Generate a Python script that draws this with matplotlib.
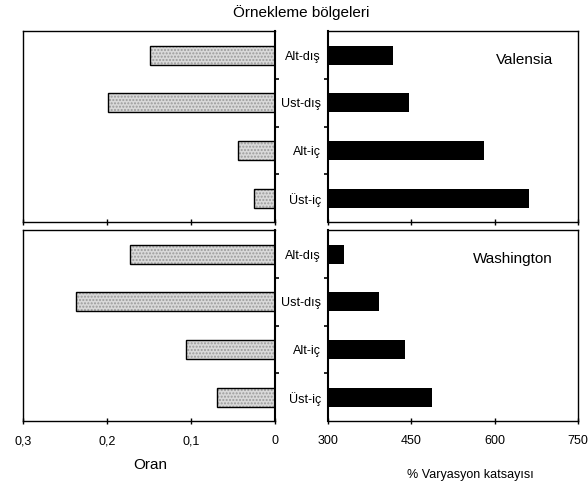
import matplotlib.pyplot as plt
import numpy as np

plt.rcParams['font.family'] = ['Liberation Sans', 'DejaVu Sans']

bolgeler = ['Alt-dış', 'Ust-dış', 'Alt-iç', 'Üst-iç']
yerler = ['Valensia', 'Washington']
oran = [[0.149, 0.199, 0.044, 0.025],
        [0.173, 0.237, 0.106, 0.069]]
varyasyon = [[416, 445, 580, 661],
             [329, 392, 439, 487]]
oran_ticks = [0.3, 0.2, 0.1, 0]
oran_labels = ['0,3', '0,2', '0,1', '0']
var_ticks = [300, 450, 600, 750]

fig = plt.figure(figsize=(5.88, 4.88), dpi=100)

y = np.arange(len(bolgeler))
rows = [(0.545, 0.391), (0.137, 0.391)]

for i, (b, h) in enumerate(rows):
    axl = fig.add_axes([0.039, b, 0.4286, h])
    axr = fig.add_axes([0.558, b, 0.425, h])

    # left: stippled bars, reversed axis
    axl.barh(y, oran[i], height=0.4, color='#d9d9d9', hatch='.....',
             edgecolor='#9a9a9a', linewidth=0)
    axl.barh(y, oran[i], height=0.4, fill=False, edgecolor='black', linewidth=1)
    axl.set_xlim(0.3, 0)
    axl.set_ylim(3.5, -0.5)
    axl.set_xticks(oran_ticks)
    axl.set_yticks([])
    axl.yaxis.tick_right()
    axl.set_yticks([0.5, 1.5, 2.5], minor=True)
    axl.tick_params(axis='y', which='minor', direction='out', length=3, width=1.2)
    axl.tick_params(axis='x', direction='inout', length=4, width=1)

    # right: black bars
    axr.barh(y, np.array(varyasyon[i]) - 300, left=300, height=0.4, color='black')
    axr.set_xlim(300, 750)
    axr.set_ylim(3.5, -0.5)
    axr.set_xticks(var_ticks)
    axr.set_yticks(y)
    axr.set_yticklabels(bolgeler, fontsize=9)
    axr.tick_params(axis='y', which='major', length=0, pad=5)
    axr.set_yticks([0.5, 1.5, 2.5], minor=True)
    axr.tick_params(axis='y', which='minor', direction='out', length=3, width=1.2)
    axr.tick_params(axis='x', direction='inout', length=4, width=1)
    axr.text(0.9, 0.85, yerler[i], transform=axr.transAxes, ha='right',
             va='center', fontsize=11)

    for ax in (axl, axr):
        for s in ax.spines.values():
            s.set_linewidth(1)
        ax.spines['left'].set_linewidth(1.5) if ax is axr else ax.spines['right'].set_linewidth(1.5)

    if i == 0:
        axl.set_xticklabels([])
        axr.set_xticklabels([])
    else:
        axl.set_xticklabels(oran_labels, fontsize=9)
        axr.set_xticklabels([str(t) for t in var_ticks], fontsize=9)
        axl.tick_params(axis='x', pad=8)
        axr.tick_params(axis='x', pad=8)

fig.text(0.512, 0.975, 'Örnekleme bölgeleri', ha='center', va='center', fontsize=11)
fig.text(0.255, 0.047, 'Oran', ha='center', va='center', fontsize=11)
fig.text(0.80, 0.027, '% Varyasyon katsayısı', ha='center', va='center', fontsize=9)

fig.savefig('out.png', dpi=100)
